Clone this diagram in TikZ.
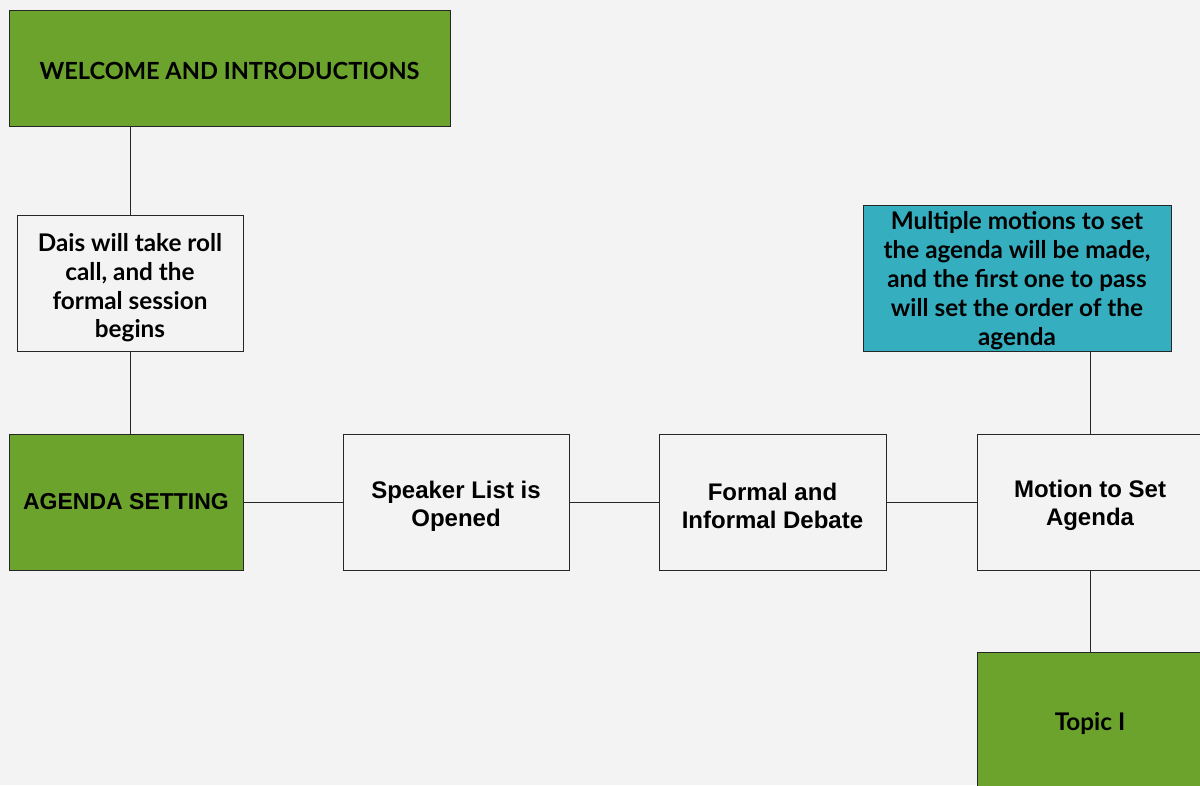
\documentclass[tikz,border=0pt]{standalone}
\usepackage{fontspec}
\setmainfont{Liberation Sans}
\newfontfamily\roundfont{Lato}
\definecolor{pagebg}{HTML}{F3F3F3}
\definecolor{leafgreen}{HTML}{6CA32D}
\definecolor{tealfill}{HTML}{35AFC0}
\tikzset{
  box/.style={draw=black!85, line width=0.9pt, fill=pagebg, align=center,
    minimum width=226, minimum height=136, inner sep=0pt},
  greenbox/.style={box, fill=leafgreen},
  tealbox/.style={box, fill=tealfill},
  lowered/.style={execute at begin node={\rule{0pt}{#1}}},
  lowered/.default=53pt,
  arialtext/.style={font=\bfseries\fontsize{24}{28}\selectfont},
  roundtext/.style={font=\roundfont\bfseries\fontsize{24.3}{28.8}\selectfont},
}
\begin{document}
\begin{tikzpicture}[x=1pt,y=-1pt]
      \useasboundingbox (0,0) rectangle (1200,785);
      \fill[pagebg] (0,0) rectangle (1200,785);
      \clip (0,0) rectangle (1200,785);
      \draw
        (229.5,68) node[greenbox, lowered=24pt, font=\roundfont\bfseries\fontsize{23.6}{28}\selectfont, minimum width=441, minimum height=116] (welcome){WELCOME AND INTRODUCTIONS}
        (130,283) node[box, roundtext, lowered=114pt] (dais){Dais will take roll\\call, and the\\formal session\\begins}
        (126,502) node[greenbox, font=\bfseries\fontsize{23}{28}\selectfont, minimum width=234] (agenda){AGENDA SETTING}
        (456,502) node[box, arialtext, lowered] (speaker){Speaker List is\\Opened}
        (772.5,502) node[box, arialtext, lowered, minimum width=227] (debate){Formal and\\Informal Debate}
        (1090,502) node[box, arialtext, lowered] (motion){Motion to Set\\Agenda}
        (1017,278) node[tealbox, roundtext, lowered=138.5pt, minimum width=308, minimum height=146] (motions){Multiple motions to set\\the agenda will be made,\\and the first one to pass\\will set the order of the\\agenda}
        (1090,720) node[greenbox, roundtext, lowered=25pt] (topic){Topic I};
      \begin{scope}[-, line width=0.9pt, draw=black!85]
        \draw (dais.north) to (dais.north |- welcome.south);
        \draw (dais) to (agenda.north -| dais);
        \draw (agenda) to (speaker);
        \draw (speaker) to (debate);
        \draw (debate) to (motion);
        \draw (motion) to (motion.north |- motions.south);
        \draw (motion) to (topic);
      \end{scope}
    \end{tikzpicture}
\end{document}
